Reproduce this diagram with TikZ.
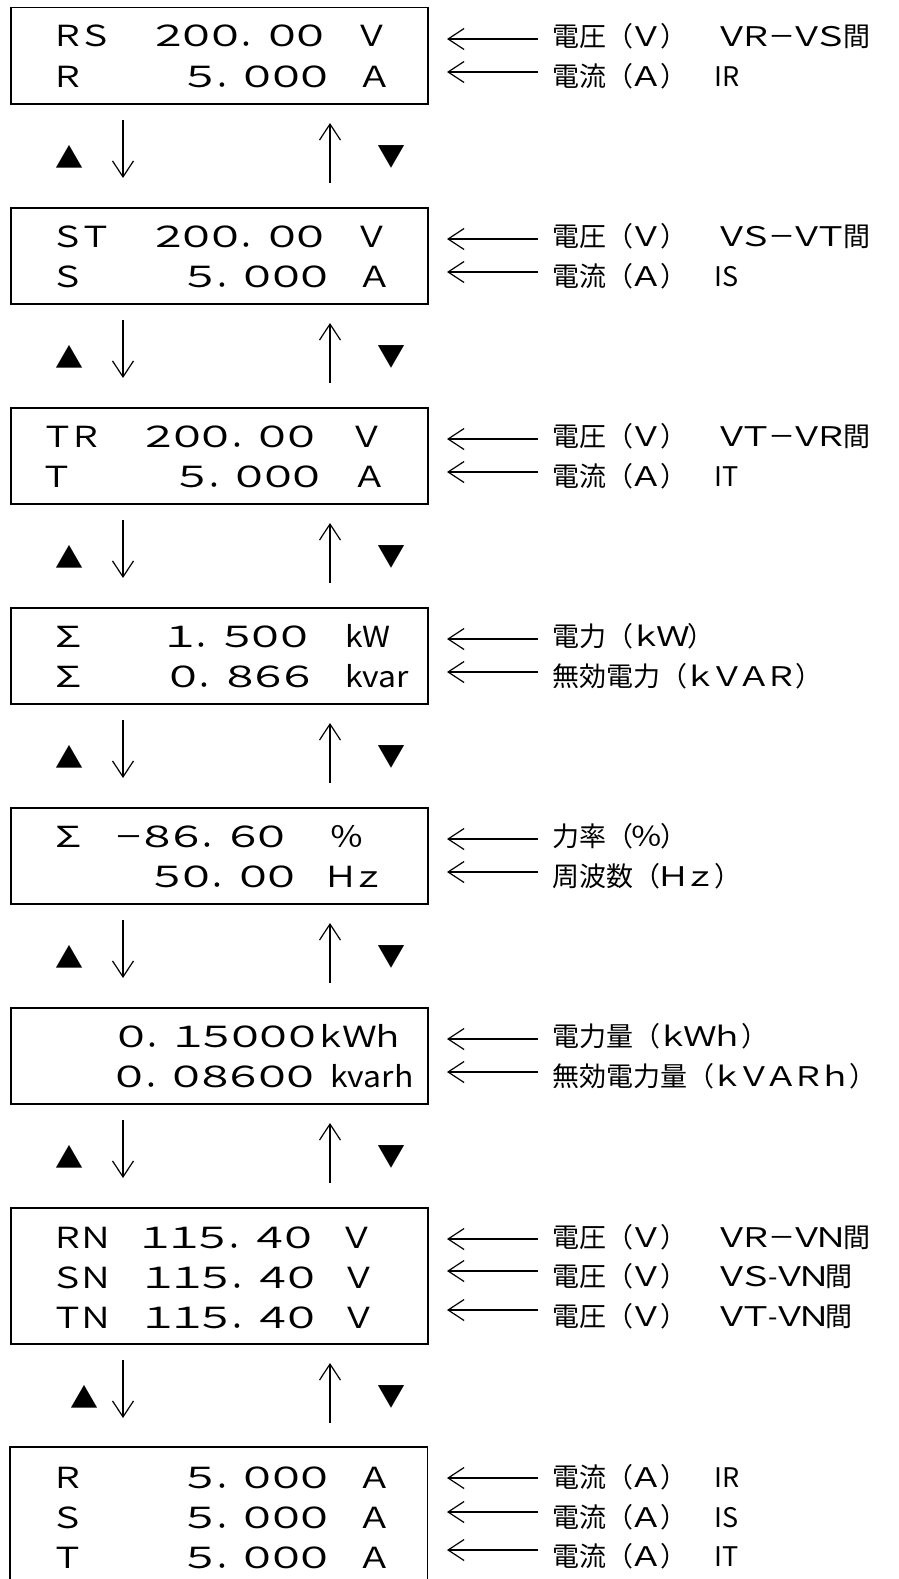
\documentclass[tikz,border=0pt]{standalone}
\usepackage{fontspec}
\usepackage{graphicx}
\usetikzlibrary{arrows.meta}
\newfontfamily\jp{Noto Sans CJK JP}
\newcommand{\dispfont}{\jp\fontsize{29}{29}\selectfont}
\newcommand{\lblfont}{\jp\fontsize{27}{27}\selectfont}
\newcommand{\trifont}{\jp\fontsize{28}{28}\selectfont}
\makeatletter
\def\fw@dot{．}
% #1 cell pitch, #2 horizontal scale, #3 characters
\newcommand{\fwcells}[3]{%
  \@tfor\fw@c:=#3\do{%
    \ifx\fw@c\fw@dot
      \makebox[#1][l]{\fw@c}%
    \else
      \makebox[#1][c]{\scalebox{#2}[1]{\fw@c}}%
    \fi}}
\makeatother
% display helpers
\newcommand{\fwDig}[1]{\fwcells{28.5pt}{1.45}{#1}}
\newcommand{\fwLet}[1]{\fwcells{28.5pt}{1.2}{#1}}
% label helpers
\newcommand{\fwLab}[1]{\fwcells{27pt}{1.25}{#1}}
\newcommand{\fwTight}[1]{\fwcells{24pt}{1.3}{#1}}
\newcommand{\gap}{\kern33pt}
\begin{document}
\begin{tikzpicture}[x=1pt,y=-1pt,
  lcdbox/.style={draw, line width=1.5pt, minimum width=417pt, anchor=north west, inner sep=0pt},
  dt/.style={font=\dispfont, inner sep=0pt, anchor=base},
  dtw/.style={font=\dispfont, inner sep=0pt, anchor=base west},
  lbl/.style={font=\lblfont, inner sep=0pt, anchor=base west},
  arr/.style={line width=1.2pt, -{Straight Barb[length=16pt,width=21pt]}},
  tri/.style={font=\trifont, inner sep=0pt, anchor=center}]
\useasboundingbox (0,0) rectangle (899,1579);

% ---------- Box 1 ----------
\node[lcdbox, minimum height=96pt] (b1) at (10,7) {};
\node[dt] (b1r1a) at (82,47) {\fwLet{ＲＳ}};
\node[dt] (b1r1b) at (239.5,47) {\fwDig{２００．００}};
\node[dt] (b1r1c) at (372,47) {\fwLet{Ｖ}};
\node[dt] (b1r2a) at (68,87) {\fwLet{Ｒ}};
\node[dt] (b1r2b) at (258,87) {\fwDig{５．０００}};
\node[dt] (b1r2c) at (375,87) {\fwLet{Ａ}};
\node[lbl] (l1a) at (552,46.5) {電圧（\fwLab{Ｖ}）\gap\fwTight{ＶＲ}－\fwTight{ＶＳ}間};
\node[lbl] (l1b) at (552,86.5) {電流（\fwLab{Ａ}）　IR};

% ---------- Box 2 ----------
\node[lcdbox, minimum height=96pt] (b2) at (10,207) {};
\node[dt] (b2r1a) at (82,247) {\fwLet{ＳＴ}};
\node[dt] (b2r1b) at (239.5,247) {\fwDig{２００．００}};
\node[dt] (b2r1c) at (372,247) {\fwLet{Ｖ}};
\node[dt] (b2r2a) at (68,287) {\fwLet{Ｓ}};
\node[dt] (b2r2b) at (258,287) {\fwDig{５．０００}};
\node[dt] (b2r2c) at (375,287) {\fwLet{Ａ}};
\node[lbl] (l2a) at (552,246.5) {電圧（\fwLab{Ｖ}）\gap\fwTight{ＶＳ}－\fwTight{ＶＴ}間};
\node[lbl] (l2b) at (552,286.5) {電流（\fwLab{Ａ}）　IS};

% ---------- Box 3 ----------
\node[lcdbox, minimum height=96pt] (b3) at (10,407) {};
\node[dt] (b3r1a) at (72,447) {\fwLet{ＴＲ}};
\node[dt] (b3r1b) at (230,447) {\fwDig{２００．００}};
\node[dt] (b3r1c) at (367,447) {\fwLet{Ｖ}};
\node[dt] (b3r2a) at (57,487) {\fwLet{Ｔ}};
\node[dt] (b3r2b) at (250,487) {\fwDig{５．０００}};
\node[dt] (b3r2c) at (370,487) {\fwLet{Ａ}};
\node[lbl] (l3a) at (552,446.5) {電圧（\fwLab{Ｖ}）\gap\fwTight{ＶＴ}－\fwTight{ＶＲ}間};
\node[lbl] (l3b) at (552,486.5) {電流（\fwLab{Ａ}）　IT};

% ---------- Box 4 ----------
\node[lcdbox, minimum height=96pt] (b4) at (10,607) {};
\node[dt] (b4r1a) at (69,647) {\fwcells{28.5pt}{1.5}{Σ}};
\node[dt] (b4r1b) at (237.5,647) {\fwDig{１．５００}};
\node[dtw] (b4r1c) at (345,647) {\scalebox{1.1}[1]{kW}};
\node[dt] (b4r2a) at (69,687) {\fwcells{28.5pt}{1.5}{Σ}};
\node[dt] (b4r2b) at (240.5,687) {\fwDig{０．８６６}};
\node[dtw] (b4r2c) at (345,687) {\scalebox{1.1}[1]{kvar}};
\node[lbl] (l4a) at (552,646.5) {電力（\fwLab{ｋＷ}）};
\node[lbl] (l4b) at (552,686.5) {無効電力（\fwLab{ｋＶＡＲ}）};

% ---------- Box 5 ----------
\node[lcdbox, minimum height=96pt] (b5) at (10,807) {};
\node[dt] (b5r1a) at (69,847) {\fwcells{28.5pt}{1.5}{Σ}};
\node[dt] (b5r1b) at (200.5,847) {－\fwDig{８６．６０}};
\node[dt] (b5r1c) at (346.5,847) {\fwLet{％}};
\node[dt] (b5r2b) at (225,887) {\fwDig{５０．００}};
\node[dt] (b5r2c) at (355,887) {\fwLet{Ｈｚ}};
\node[lbl] (l5a) at (552,846.5) {力率（\fwcells{27pt}{1.2}{％}）};
\node[lbl] (l5b) at (552,886.5) {周波数（\fwLab{Ｈｚ}）};

% ---------- Box 6 ----------
\node[lcdbox, minimum height=96pt] (b6) at (10,1007) {};
\node[dt] (b6r1b) at (259.75,1047) {\fwDig{０．１５０００}\fwLet{ｋＷｈ}};
\node[dt] (b6r2b) at (215.5,1087) {\fwDig{０．０８６００}};
\node[dtw] (b6r2c) at (330,1087) {\scalebox{1.1}[1]{kvarh}};
\node[lbl] (l6a) at (552,1046.5) {電力量（\fwLab{ｋＷｈ}）};
\node[lbl] (l6b) at (552,1086.5) {無効電力量（\fwLab{ｋＶＡＲｈ}）};

% ---------- Box 7 ----------
\node[lcdbox, minimum height=136pt] (b7) at (10,1207) {};
\node[dt] (b7r1a) at (82,1248) {\fwLet{ＲＮ}};
\node[dt] (b7r1b) at (227,1248) {\fwDig{１１５．４０}};
\node[dt] (b7r1c) at (356.5,1248) {\fwLet{Ｖ}};
\node[dt] (b7r2a) at (82,1288) {\fwLet{ＳＮ}};
\node[dt] (b7r2b) at (230,1288) {\fwDig{１１５．４０}};
\node[dt] (b7r2c) at (358.5,1288) {\fwLet{Ｖ}};
\node[dt] (b7r3a) at (82,1328) {\fwLet{ＴＮ}};
\node[dt] (b7r3b) at (230,1328) {\fwDig{１１５．４０}};
\node[dt] (b7r3c) at (358.5,1328) {\fwLet{Ｖ}};
\node[lbl] (l7a) at (552,1247) {電圧（\fwLab{Ｖ}）\gap\fwTight{ＶＲ}－\fwTight{ＶＮ}間};
\node[lbl] (l7b) at (552,1286.5) {電圧（\fwLab{Ｖ}）\gap\fwTight{ＶＳ}-\fwTight{ＶＮ}間};
\node[lbl] (l7c) at (552,1326.5) {電圧（\fwLab{Ｖ}）\gap\fwTight{ＶＴ}-\fwTight{ＶＮ}間};

% ---------- Box 8 (cut off at bottom) ----------
\node[minimum width=417pt, minimum height=136pt, anchor=north west, inner sep=0pt] (b8) at (10,1447) {};
\draw[line width=1.5pt] (b8.south west) -- (b8.north west) -- (b8.north east) -- (b8.south east);
\node[dt] (b8r1a) at (68,1488) {\fwLet{Ｒ}};
\node[dt] (b8r1b) at (258,1488) {\fwDig{５．０００}};
\node[dt] (b8r1c) at (375,1488) {\fwLet{Ａ}};
\node[dt] (b8r2a) at (68,1528) {\fwLet{Ｓ}};
\node[dt] (b8r2b) at (258,1528) {\fwDig{５．０００}};
\node[dt] (b8r2c) at (375,1528) {\fwLet{Ａ}};
\node[dt] (b8r3a) at (68,1568) {\fwLet{Ｔ}};
\node[dt] (b8r3b) at (258,1568) {\fwDig{５．０００}};
\node[dt] (b8r3c) at (375,1568) {\fwLet{Ａ}};
\node[lbl] (l8a) at (552,1487) {電流（\fwLab{Ａ}）　IR};
\node[lbl] (l8b) at (552,1527) {電流（\fwLab{Ａ}）　IS};
\node[lbl] (l8c) at (552,1566.5) {電流（\fwLab{Ａ}）　IT};

% ---------- label arrows ----------
\foreach \n/\y in {1a/39,1b/72,2a/239,2b/272,3a/439,3b/472,4a/639,4b/672,
                   5a/839,5b/872,6a/1039,6b/1072,7a/1239,7b/1271,7c/1310,
                   8a/1478,8b/1512,8c/1550}{
  \coordinate (ls\n) at (538,\y);
  \coordinate (le\n) at (447,\y);
  \draw[arr] (ls\n) -- (le\n);
}

% ---------- navigation arrows between boxes ----------
\foreach \B/\tx [count=\i] in {103/69,303/69,503/69,703/69,903/69,1103/69,1343/84.5}{
  \coordinate (ds\i) at (123,\B+17);
  \coordinate (de\i) at (123,\B+75);
  \coordinate (us\i) at (330,\B+80);
  \coordinate (ue\i) at (330,\B+20);
  \draw[arr] (ds\i) -- (de\i);
  \draw[arr] (us\i) -- (ue\i);
  \node[tri] (tu\i) at (\tx,\B+54) {▲};
  \node[tri] (td\i) at (391.5,\B+54) {▼};
}
\end{tikzpicture}
\end{document}
